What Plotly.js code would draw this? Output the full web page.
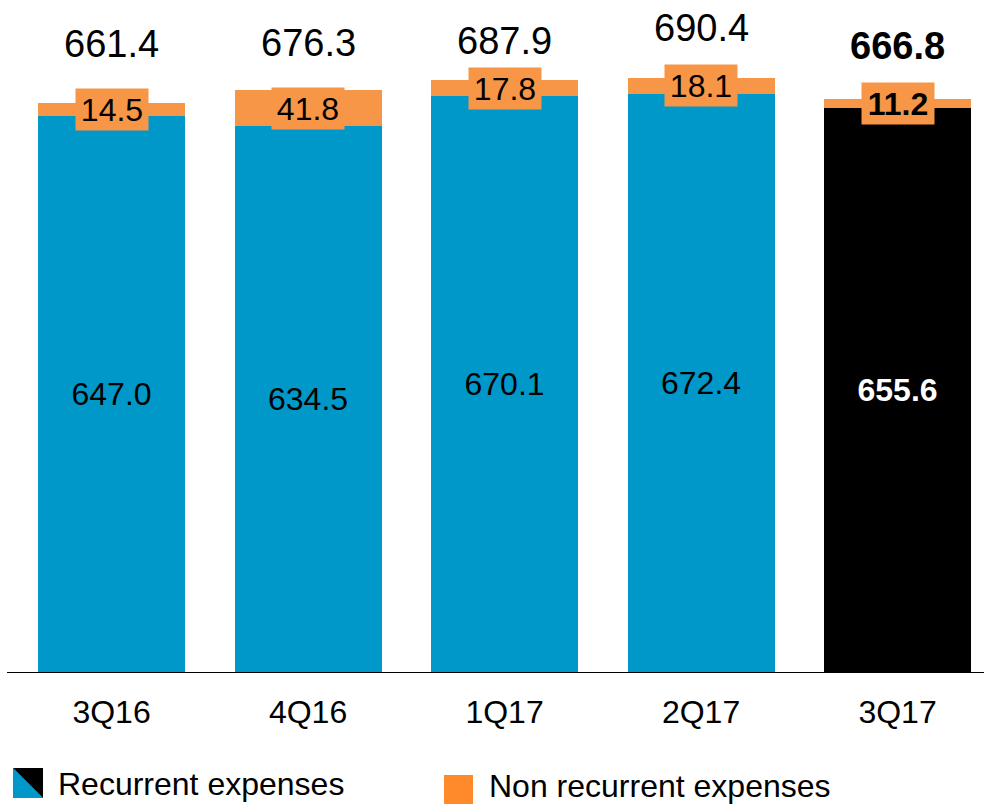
<!DOCTYPE html>
<html>
<head>
<meta charset="utf-8">
<script src="https://cdn.plot.ly/plotly-3.0.1.min.js"></script>
<style>html,body{margin:0;padding:0;background:#fff;}#chart{width:984px;height:804px;}</style>
</head>
<body>
<div id="chart"></div>
<script>
// ---- data ----
const quarters = ["3Q16", "4Q16", "1Q17", "2Q17", "3Q17"];
const recurrent = [647.0, 634.5, 670.1, 672.4, 655.6];
const nonRecurrent = [14.5, 41.8, 17.8, 18.1, 11.2];
const totals = [661.4, 676.3, 687.9, 690.4, 666.8];
const seriesNames = ["Recurrent expenses", "Non recurrent expenses"];

// ---- styles ----
const BLUE = "#0098C9";
const ORANGE = "#F79646";
const LEGEND_ORANGE = "#FF8A2C";
const HIGHLIGHT = "#000000";
const FONT = "Liberation Sans, Arial, sans-serif";
const W = 984, H = 804;
const M = {l: 7, r: 0, t: 0, b: 132};
const totalLift = [36, 24, 16, 27, 30]; // px above bar top for total labels

const last = quarters.length - 1;
const recColors = quarters.map((q, i) => i === last ? HIGHLIGHT : BLUE);
const recText = recurrent.map(v => v.toFixed(1));
const recFont = quarters.map((q, i) => i === last ? "#ffffff" : "#000000");

const traces = [
  {
    type: "bar", name: seriesNames[0], x: quarters, y: recurrent,
    marker: {color: recColors, line: {width: 0}},
    text: recText, textposition: "inside", insidetextanchor: "middle",
    textfont: {family: FONT, size: 32, color: recFont},
    texttemplate: quarters.map((q, i) => i === last ? "<b>%{text}</b>" : "%{text}"),
    hoverinfo: "skip", showlegend: false
  },
  {
    type: "bar", name: seriesNames[1], x: quarters, y: nonRecurrent,
    marker: {color: ORANGE, line: {width: 0}},
    hoverinfo: "skip", showlegend: false
  }
];

const annotations = [];
quarters.forEach((q, i) => {
  const bold = i === last;
  // orange value boxes
  annotations.push({
    x: q, y: recurrent[i] + nonRecurrent[i] / 2, xref: "x", yref: "y",
    text: bold ? "<b>" + nonRecurrent[i].toFixed(1) + "</b>" : nonRecurrent[i].toFixed(1),
    showarrow: false, bgcolor: ORANGE, width: 72, height: 41, borderpad: 0,
    font: {family: FONT, size: 32, color: "#000"}, xanchor: "center", yanchor: "middle"
  });
  // totals
  annotations.push({
    x: q, y: recurrent[i] + nonRecurrent[i], xref: "x", yref: "y",
    text: bold ? "<b>" + totals[i].toFixed(1) + "</b>" : totals[i].toFixed(1),
    showarrow: false, yanchor: "bottom", xanchor: "center", yshift: totalLift[i],
    font: {family: FONT, size: 38, color: "#000"}
  });
});

// custom legend (pixel -> paper helpers)
const pw = W - M.l - M.r, ph = H - M.t - M.b;
const px = p => (p - M.l) / pw;
const py = p => (H - M.b - p) / ph;

annotations.push({
  xref: "paper", yref: "paper", x: px(56), y: py(784), xanchor: "left", yanchor: "middle",
  text: seriesNames[0], showarrow: false, font: {family: FONT, size: 32, color: "#000"}
});
annotations.push({
  xref: "paper", yref: "paper", x: px(487), y: py(786), xanchor: "left", yanchor: "middle",
  text: seriesNames[1], showarrow: false, font: {family: FONT, size: 32, color: "#000"}
});

const shapes = [
  {type: "path", xref: "paper", yref: "paper",
   path: `M ${px(13)} ${py(768)} L ${px(13)} ${py(798)} L ${px(43)} ${py(798)} Z`,
   fillcolor: BLUE, line: {width: 0}},
  {type: "path", xref: "paper", yref: "paper",
   path: `M ${px(13)} ${py(768)} L ${px(43)} ${py(768)} L ${px(43)} ${py(798)} Z`,
   fillcolor: HIGHLIGHT, line: {width: 0}},
  {type: "rect", xref: "paper", yref: "paper",
   x0: px(444), x1: px(473), y0: py(775), y1: py(805),
   fillcolor: LEGEND_ORANGE, line: {width: 0}}
];

const layout = {
  width: W, height: H, margin: M,
  paper_bgcolor: "#fff", plot_bgcolor: "#fff",
  barmode: "stack", bargap: 0.252,
  showlegend: false,
  font: {family: FONT, color: "#000"},
  xaxis: {
    type: "category", range: [-0.532, 4.44],
    showline: true, linecolor: "#000", linewidth: 1,
    showgrid: false, zeroline: false, ticks: "", ticklabelstandoff: 12,
    tickfont: {family: FONT, size: 32, color: "#000"}, fixedrange: true
  },
  yaxis: {
    range: [0, 781.4], visible: false, showgrid: false, zeroline: false, fixedrange: true
  },
  annotations: annotations,
  shapes: shapes
};

Plotly.newPlot("chart", traces, layout, {displayModeBar: false, staticPlot: true});
</script>
</body>
</html>
